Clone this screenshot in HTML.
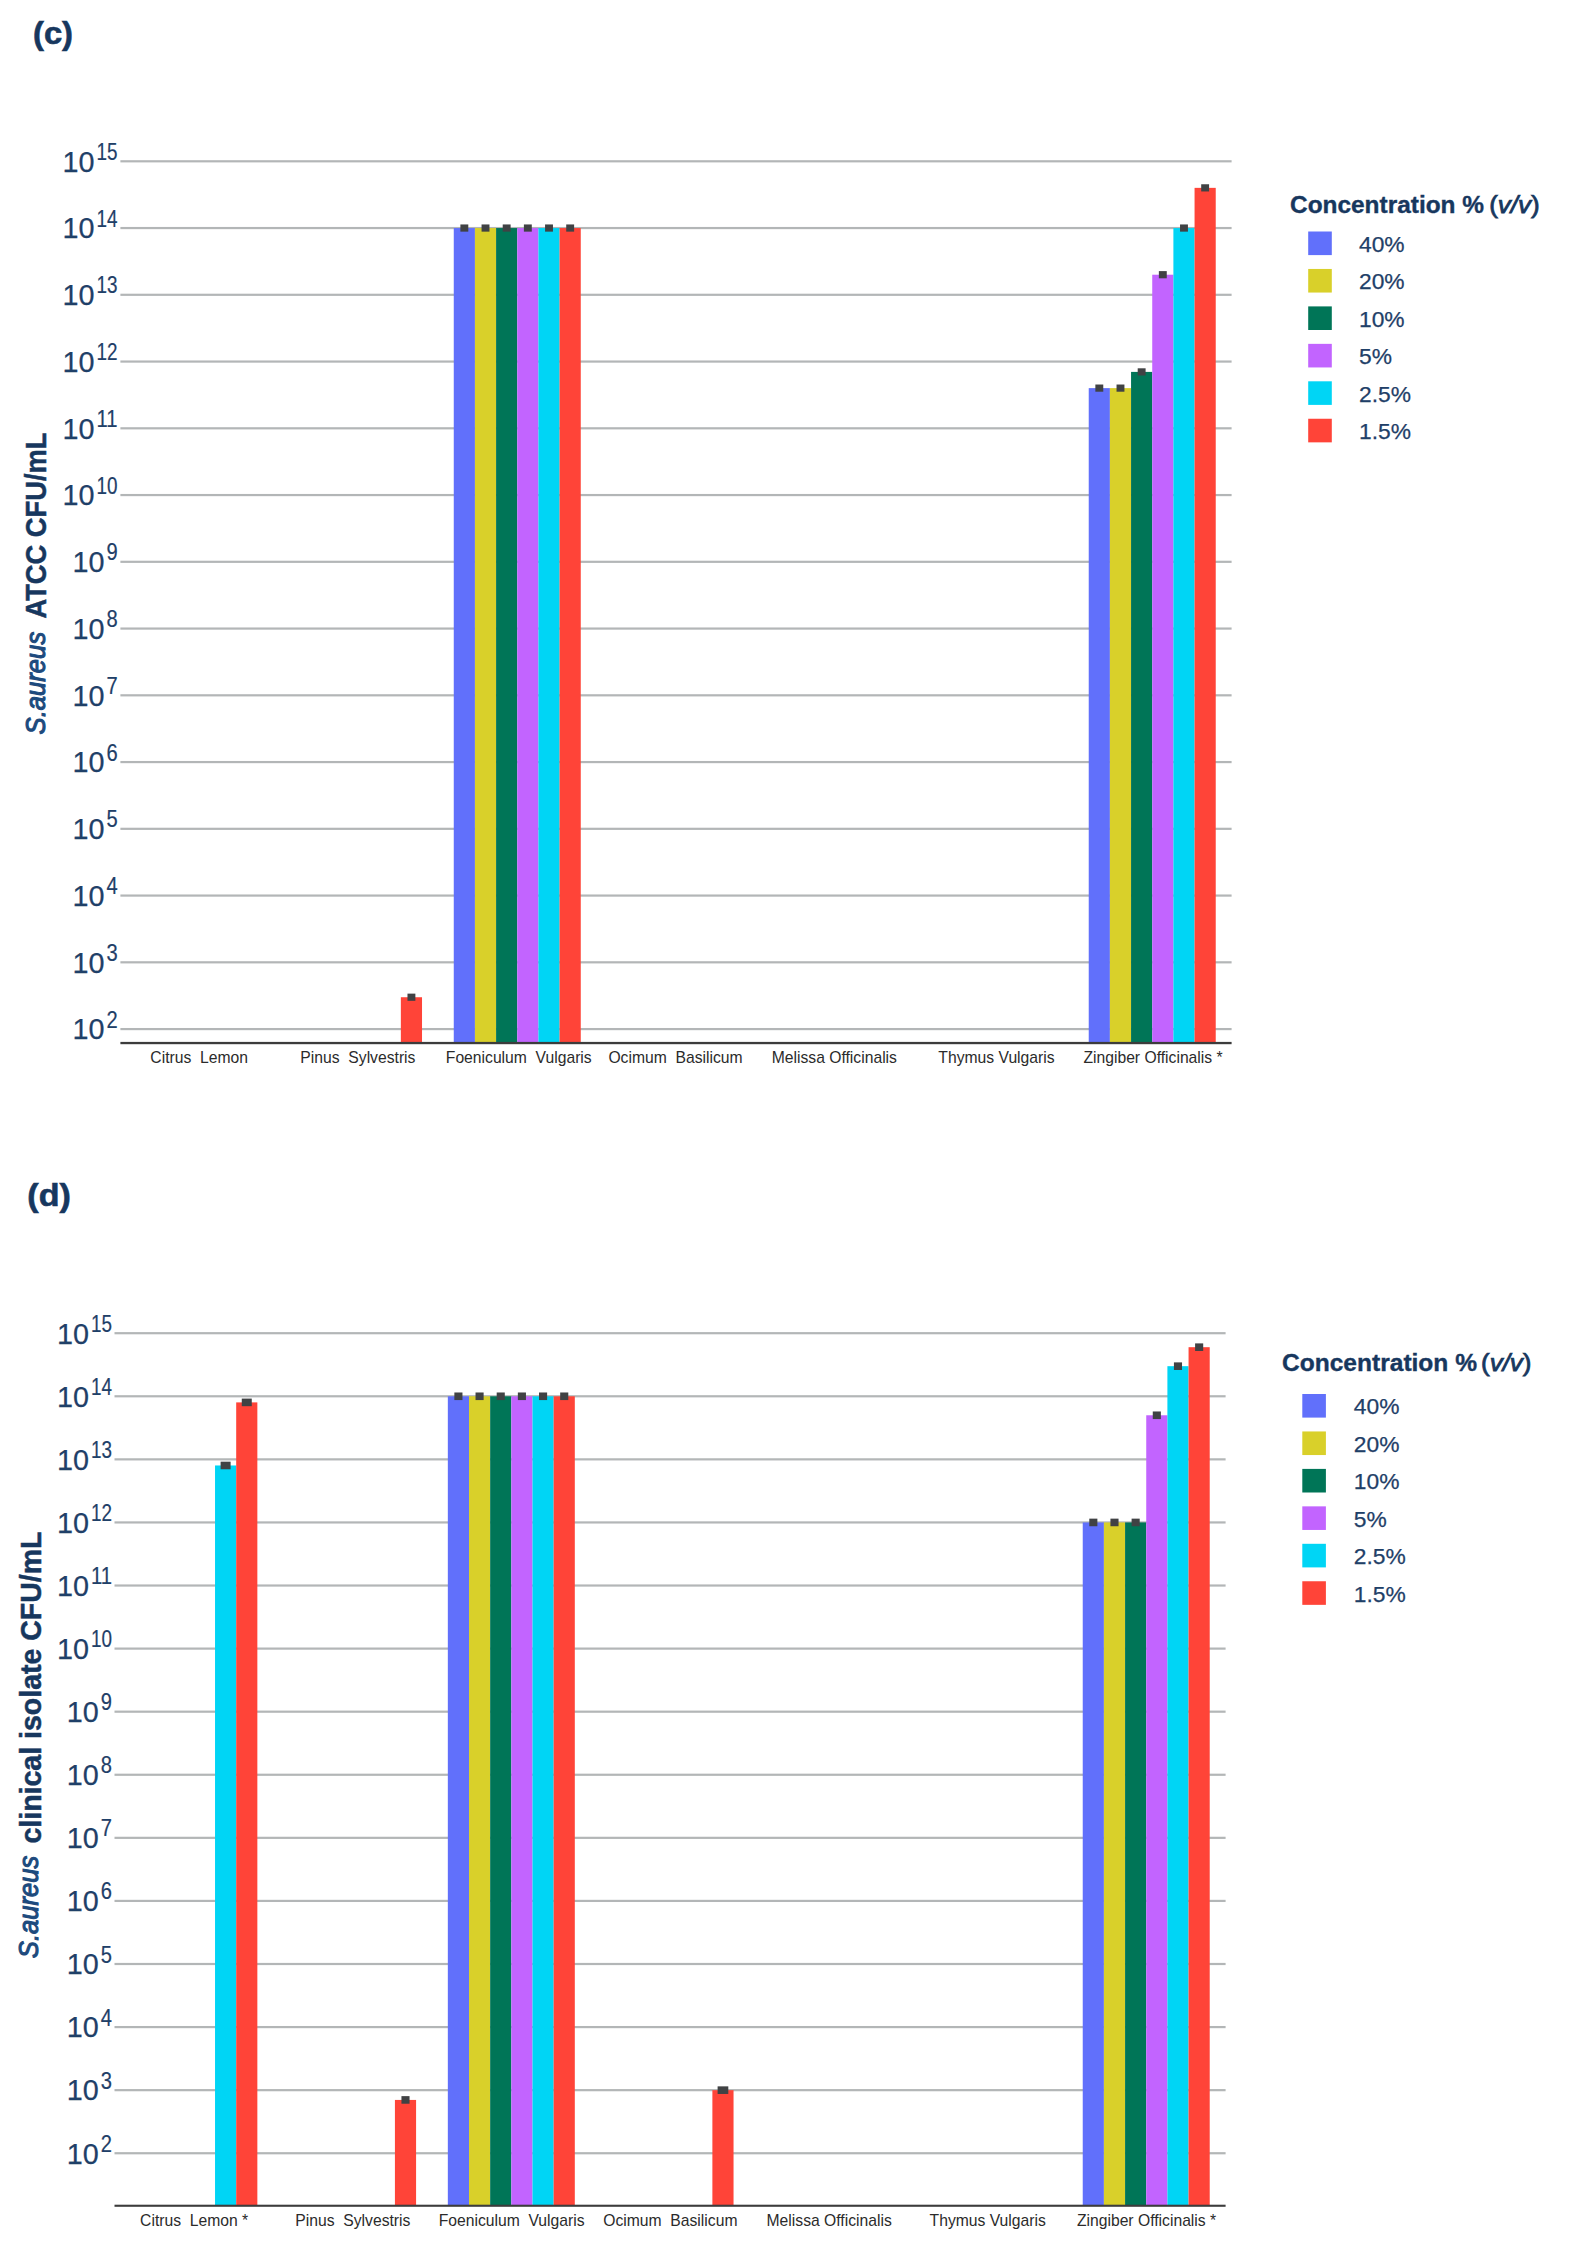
<!DOCTYPE html>
<html lang="en"><head><meta charset="utf-8"><title>S. aureus CFU/mL charts</title>
<style>
html,body{margin:0;padding:0;background:#fff;}
svg{display:block;font-family:"Liberation Sans",sans-serif;}
</style></head><body>
<svg width="1572" height="2255" viewBox="0 0 1572 2255">
<rect width="1572" height="2255" fill="#ffffff"/>
<g id="chart-c">
<rect x="120.40" y="1027.98" width="1111.20" height="2.2" fill="#b3b6b7"/>
<rect x="120.40" y="961.22" width="1111.20" height="2.2" fill="#b3b6b7"/>
<rect x="120.40" y="894.47" width="1111.20" height="2.2" fill="#b3b6b7"/>
<rect x="120.40" y="827.72" width="1111.20" height="2.2" fill="#b3b6b7"/>
<rect x="120.40" y="760.97" width="1111.20" height="2.2" fill="#b3b6b7"/>
<rect x="120.40" y="694.22" width="1111.20" height="2.2" fill="#b3b6b7"/>
<rect x="120.40" y="627.46" width="1111.20" height="2.2" fill="#b3b6b7"/>
<rect x="120.40" y="560.71" width="1111.20" height="2.2" fill="#b3b6b7"/>
<rect x="120.40" y="493.96" width="1111.20" height="2.2" fill="#b3b6b7"/>
<rect x="120.40" y="427.21" width="1111.20" height="2.2" fill="#b3b6b7"/>
<rect x="120.40" y="360.46" width="1111.20" height="2.2" fill="#b3b6b7"/>
<rect x="120.40" y="293.70" width="1111.20" height="2.2" fill="#b3b6b7"/>
<rect x="120.40" y="226.95" width="1111.20" height="2.2" fill="#b3b6b7"/>
<rect x="120.40" y="160.20" width="1111.20" height="2.2" fill="#b3b6b7"/>
<rect x="400.85" y="997.23" width="21.17" height="45.82" fill="#ff4438"/>
<rect x="453.76" y="228.05" width="21.17" height="815.00" fill="#6170fb"/>
<rect x="474.93" y="228.05" width="21.17" height="815.00" fill="#d9d02a"/>
<rect x="496.09" y="228.05" width="21.17" height="815.00" fill="#007557"/>
<rect x="517.26" y="228.05" width="21.17" height="815.00" fill="#c264ff"/>
<rect x="538.42" y="228.05" width="21.17" height="815.00" fill="#00d5f5"/>
<rect x="559.59" y="228.05" width="21.17" height="815.00" fill="#ff4438"/>
<rect x="1088.73" y="388.12" width="21.17" height="654.93" fill="#6170fb"/>
<rect x="1109.90" y="388.12" width="21.17" height="654.93" fill="#d9d02a"/>
<rect x="1131.06" y="371.90" width="21.17" height="671.15" fill="#007557"/>
<rect x="1152.23" y="274.71" width="21.17" height="768.34" fill="#c264ff"/>
<rect x="1173.39" y="228.05" width="21.17" height="815.00" fill="#00d5f5"/>
<rect x="1194.56" y="187.86" width="21.17" height="855.19" fill="#ff4438"/>
<rect x="120.40" y="1041.90" width="1111.20" height="2.3" fill="#3c3c3c"/>
<rect x="407.48" y="993.63" width="7.9" height="7.2" fill="#404244"/>
<rect x="460.39" y="224.45" width="7.9" height="7.2" fill="#404244"/>
<rect x="481.56" y="224.45" width="7.9" height="7.2" fill="#404244"/>
<rect x="502.72" y="224.45" width="7.9" height="7.2" fill="#404244"/>
<rect x="523.89" y="224.45" width="7.9" height="7.2" fill="#404244"/>
<rect x="545.06" y="224.45" width="7.9" height="7.2" fill="#404244"/>
<rect x="566.22" y="224.45" width="7.9" height="7.2" fill="#404244"/>
<rect x="1095.36" y="384.52" width="7.9" height="7.2" fill="#404244"/>
<rect x="1116.53" y="384.52" width="7.9" height="7.2" fill="#404244"/>
<rect x="1137.70" y="368.30" width="7.9" height="7.2" fill="#404244"/>
<rect x="1158.86" y="271.11" width="7.9" height="7.2" fill="#404244"/>
<rect x="1180.03" y="224.45" width="7.9" height="7.2" fill="#404244"/>
<rect x="1201.19" y="184.26" width="7.9" height="7.2" fill="#404244"/>
<text x="106.40" y="1027.58" font-size="23.0" fill="#1f4068" stroke="#1f4068" stroke-width="0.2" textLength="11.2" lengthAdjust="spacingAndGlyphs">2</text>
<text x="72.40" y="1039.38" font-size="30.3" fill="#1f4068" stroke="#1f4068" stroke-width="0.25" textLength="32" lengthAdjust="spacingAndGlyphs">10</text>
<text x="106.40" y="960.82" font-size="23.0" fill="#1f4068" stroke="#1f4068" stroke-width="0.2" textLength="11.2" lengthAdjust="spacingAndGlyphs">3</text>
<text x="72.40" y="972.62" font-size="30.3" fill="#1f4068" stroke="#1f4068" stroke-width="0.25" textLength="32" lengthAdjust="spacingAndGlyphs">10</text>
<text x="106.40" y="894.07" font-size="23.0" fill="#1f4068" stroke="#1f4068" stroke-width="0.2" textLength="11.2" lengthAdjust="spacingAndGlyphs">4</text>
<text x="72.40" y="905.87" font-size="30.3" fill="#1f4068" stroke="#1f4068" stroke-width="0.25" textLength="32" lengthAdjust="spacingAndGlyphs">10</text>
<text x="106.40" y="827.32" font-size="23.0" fill="#1f4068" stroke="#1f4068" stroke-width="0.2" textLength="11.2" lengthAdjust="spacingAndGlyphs">5</text>
<text x="72.40" y="839.12" font-size="30.3" fill="#1f4068" stroke="#1f4068" stroke-width="0.25" textLength="32" lengthAdjust="spacingAndGlyphs">10</text>
<text x="106.40" y="760.57" font-size="23.0" fill="#1f4068" stroke="#1f4068" stroke-width="0.2" textLength="11.2" lengthAdjust="spacingAndGlyphs">6</text>
<text x="72.40" y="772.37" font-size="30.3" fill="#1f4068" stroke="#1f4068" stroke-width="0.25" textLength="32" lengthAdjust="spacingAndGlyphs">10</text>
<text x="106.40" y="693.82" font-size="23.0" fill="#1f4068" stroke="#1f4068" stroke-width="0.2" textLength="11.2" lengthAdjust="spacingAndGlyphs">7</text>
<text x="72.40" y="705.62" font-size="30.3" fill="#1f4068" stroke="#1f4068" stroke-width="0.25" textLength="32" lengthAdjust="spacingAndGlyphs">10</text>
<text x="106.40" y="627.06" font-size="23.0" fill="#1f4068" stroke="#1f4068" stroke-width="0.2" textLength="11.2" lengthAdjust="spacingAndGlyphs">8</text>
<text x="72.40" y="638.86" font-size="30.3" fill="#1f4068" stroke="#1f4068" stroke-width="0.25" textLength="32" lengthAdjust="spacingAndGlyphs">10</text>
<text x="106.40" y="560.31" font-size="23.0" fill="#1f4068" stroke="#1f4068" stroke-width="0.2" textLength="11.2" lengthAdjust="spacingAndGlyphs">9</text>
<text x="72.40" y="572.11" font-size="30.3" fill="#1f4068" stroke="#1f4068" stroke-width="0.25" textLength="32" lengthAdjust="spacingAndGlyphs">10</text>
<text x="96.60" y="493.56" font-size="23.0" fill="#1f4068" stroke="#1f4068" stroke-width="0.2" textLength="21" lengthAdjust="spacingAndGlyphs">10</text>
<text x="62.60" y="505.36" font-size="30.3" fill="#1f4068" stroke="#1f4068" stroke-width="0.25" textLength="32" lengthAdjust="spacingAndGlyphs">10</text>
<text x="96.60" y="426.81" font-size="23.0" fill="#1f4068" stroke="#1f4068" stroke-width="0.2" textLength="21" lengthAdjust="spacingAndGlyphs">11</text>
<text x="62.60" y="438.61" font-size="30.3" fill="#1f4068" stroke="#1f4068" stroke-width="0.25" textLength="32" lengthAdjust="spacingAndGlyphs">10</text>
<text x="96.60" y="360.06" font-size="23.0" fill="#1f4068" stroke="#1f4068" stroke-width="0.2" textLength="21" lengthAdjust="spacingAndGlyphs">12</text>
<text x="62.60" y="371.86" font-size="30.3" fill="#1f4068" stroke="#1f4068" stroke-width="0.25" textLength="32" lengthAdjust="spacingAndGlyphs">10</text>
<text x="96.60" y="293.30" font-size="23.0" fill="#1f4068" stroke="#1f4068" stroke-width="0.2" textLength="21" lengthAdjust="spacingAndGlyphs">13</text>
<text x="62.60" y="305.10" font-size="30.3" fill="#1f4068" stroke="#1f4068" stroke-width="0.25" textLength="32" lengthAdjust="spacingAndGlyphs">10</text>
<text x="96.60" y="226.55" font-size="23.0" fill="#1f4068" stroke="#1f4068" stroke-width="0.2" textLength="21" lengthAdjust="spacingAndGlyphs">14</text>
<text x="62.60" y="238.35" font-size="30.3" fill="#1f4068" stroke="#1f4068" stroke-width="0.25" textLength="32" lengthAdjust="spacingAndGlyphs">10</text>
<text x="96.60" y="159.80" font-size="23.0" fill="#1f4068" stroke="#1f4068" stroke-width="0.2" textLength="21" lengthAdjust="spacingAndGlyphs">15</text>
<text x="62.60" y="171.60" font-size="30.3" fill="#1f4068" stroke="#1f4068" stroke-width="0.25" textLength="32" lengthAdjust="spacingAndGlyphs">10</text>
<text x="199.17" y="1062.7" font-size="15.7" fill="#2b2b2b" text-anchor="middle" style="white-space:pre">Citrus  Lemon</text>
<text x="357.91" y="1062.7" font-size="15.7" fill="#2b2b2b" text-anchor="middle" style="white-space:pre">Pinus  Sylvestris</text>
<text x="518.76" y="1062.7" font-size="15.7" fill="#2b2b2b" text-anchor="middle" style="white-space:pre">Foeniculum  Vulgaris</text>
<text x="675.50" y="1062.7" font-size="15.7" fill="#2b2b2b" text-anchor="middle" style="white-space:pre">Ocimum  Basilicum</text>
<text x="834.34" y="1062.7" font-size="15.7" fill="#2b2b2b" text-anchor="middle" style="white-space:pre">Melissa Officinalis</text>
<text x="996.49" y="1062.7" font-size="15.7" fill="#2b2b2b" text-anchor="middle" style="white-space:pre">Thymus Vulgaris</text>
<text x="1153.03" y="1062.7" font-size="15.7" fill="#2b2b2b" text-anchor="middle" style="white-space:pre">Zingiber Officinalis *</text>
<text x="1290.0" y="212.9" font-size="23" font-weight="bold" fill="#17375e" stroke="#17375e" stroke-width="0.35" textLength="194" lengthAdjust="spacingAndGlyphs">Concentration %</text>
<text x="1489.2" y="212.9" font-size="23" fill="#17375e" stroke="#17375e" stroke-width="0.75" textLength="50.5" lengthAdjust="spacingAndGlyphs">(<tspan font-style="italic">v/v</tspan>)</text>
<rect x="1308.2" y="231.50" width="23.6" height="23.6" fill="#6170fb"/>
<text x="1359" y="251.90" font-size="22.8" fill="#1f4068" stroke="#1f4068" stroke-width="0.25">40%</text>
<rect x="1308.2" y="268.95" width="23.6" height="23.6" fill="#d9d02a"/>
<text x="1359" y="289.35" font-size="22.8" fill="#1f4068" stroke="#1f4068" stroke-width="0.25">20%</text>
<rect x="1308.2" y="306.40" width="23.6" height="23.6" fill="#007557"/>
<text x="1359" y="326.80" font-size="22.8" fill="#1f4068" stroke="#1f4068" stroke-width="0.25">10%</text>
<rect x="1308.2" y="343.85" width="23.6" height="23.6" fill="#c264ff"/>
<text x="1359" y="364.25" font-size="22.8" fill="#1f4068" stroke="#1f4068" stroke-width="0.25">5%</text>
<rect x="1308.2" y="381.30" width="23.6" height="23.6" fill="#00d5f5"/>
<text x="1359" y="401.70" font-size="22.8" fill="#1f4068" stroke="#1f4068" stroke-width="0.25">2.5%</text>
<rect x="1308.2" y="418.75" width="23.6" height="23.6" fill="#ff4438"/>
<text x="1359" y="439.15" font-size="22.8" fill="#1f4068" stroke="#1f4068" stroke-width="0.25">1.5%</text>
<text transform="translate(44.9,734.4) rotate(-90)" font-size="28.5" font-style="italic" fill="#1d4a7d" stroke="#1d4a7d" stroke-width="1.1" textLength="102.6" lengthAdjust="spacingAndGlyphs">S.aureus</text>
<text transform="translate(46.3,618.5) rotate(-90)" font-size="30" font-weight="bold" fill="#17375e" stroke="#17375e" stroke-width="0.5" textLength="186" lengthAdjust="spacingAndGlyphs">ATCC CFU/mL</text>
<text x="33.0" y="44.3" font-size="31" font-weight="bold" fill="#17375e" stroke="#17375e" stroke-width="0.6" textLength="40.0" lengthAdjust="spacingAndGlyphs">(c)</text>
</g>
<g id="chart-d">
<rect x="114.50" y="2152.14" width="1111.10" height="2.2" fill="#b3b6b7"/>
<rect x="114.50" y="2089.06" width="1111.10" height="2.2" fill="#b3b6b7"/>
<rect x="114.50" y="2025.98" width="1111.10" height="2.2" fill="#b3b6b7"/>
<rect x="114.50" y="1962.90" width="1111.10" height="2.2" fill="#b3b6b7"/>
<rect x="114.50" y="1899.82" width="1111.10" height="2.2" fill="#b3b6b7"/>
<rect x="114.50" y="1836.74" width="1111.10" height="2.2" fill="#b3b6b7"/>
<rect x="114.50" y="1773.66" width="1111.10" height="2.2" fill="#b3b6b7"/>
<rect x="114.50" y="1710.58" width="1111.10" height="2.2" fill="#b3b6b7"/>
<rect x="114.50" y="1647.50" width="1111.10" height="2.2" fill="#b3b6b7"/>
<rect x="114.50" y="1584.42" width="1111.10" height="2.2" fill="#b3b6b7"/>
<rect x="114.50" y="1521.34" width="1111.10" height="2.2" fill="#b3b6b7"/>
<rect x="114.50" y="1458.26" width="1111.10" height="2.2" fill="#b3b6b7"/>
<rect x="114.50" y="1395.18" width="1111.10" height="2.2" fill="#b3b6b7"/>
<rect x="114.50" y="1332.10" width="1111.10" height="2.2" fill="#b3b6b7"/>
<rect x="215.03" y="1465.47" width="21.16" height="740.28" fill="#00d5f5"/>
<rect x="236.19" y="1402.39" width="21.16" height="803.36" fill="#ff4438"/>
<rect x="394.92" y="2099.93" width="21.16" height="105.82" fill="#ff4438"/>
<rect x="447.83" y="1396.28" width="21.16" height="809.47" fill="#6170fb"/>
<rect x="468.99" y="1396.28" width="21.16" height="809.47" fill="#d9d02a"/>
<rect x="490.16" y="1396.28" width="21.16" height="809.47" fill="#007557"/>
<rect x="511.32" y="1396.28" width="21.16" height="809.47" fill="#c264ff"/>
<rect x="532.49" y="1396.28" width="21.16" height="809.47" fill="#00d5f5"/>
<rect x="553.65" y="1396.28" width="21.16" height="809.47" fill="#ff4438"/>
<rect x="712.38" y="2090.16" width="21.16" height="115.59" fill="#ff4438"/>
<rect x="1082.74" y="1522.44" width="21.16" height="683.31" fill="#6170fb"/>
<rect x="1103.91" y="1522.44" width="21.16" height="683.31" fill="#d9d02a"/>
<rect x="1125.07" y="1522.44" width="21.16" height="683.31" fill="#007557"/>
<rect x="1146.24" y="1415.27" width="21.16" height="790.48" fill="#c264ff"/>
<rect x="1167.40" y="1366.18" width="21.16" height="839.57" fill="#00d5f5"/>
<rect x="1188.56" y="1347.19" width="21.16" height="858.56" fill="#ff4438"/>
<rect x="114.50" y="2204.70" width="1111.10" height="2.1" fill="#3c3c3c"/>
<rect x="220.61" y="1461.67" width="10" height="7.6" fill="#404244"/>
<rect x="241.77" y="1398.59" width="10" height="7.6" fill="#404244"/>
<rect x="401.45" y="2096.13" width="8.1" height="7.6" fill="#404244"/>
<rect x="454.36" y="1392.48" width="8.1" height="7.6" fill="#404244"/>
<rect x="475.53" y="1392.48" width="8.1" height="7.6" fill="#404244"/>
<rect x="496.69" y="1392.48" width="8.1" height="7.6" fill="#404244"/>
<rect x="517.85" y="1392.48" width="8.1" height="7.6" fill="#404244"/>
<rect x="539.02" y="1392.48" width="8.1" height="7.6" fill="#404244"/>
<rect x="560.18" y="1392.48" width="8.1" height="7.6" fill="#404244"/>
<rect x="717.61" y="2086.36" width="10.7" height="7.6" fill="#404244"/>
<rect x="1089.28" y="1518.64" width="8.1" height="7.6" fill="#404244"/>
<rect x="1110.44" y="1518.64" width="8.1" height="7.6" fill="#404244"/>
<rect x="1131.60" y="1518.64" width="8.1" height="7.6" fill="#404244"/>
<rect x="1152.77" y="1411.47" width="8.1" height="7.6" fill="#404244"/>
<rect x="1173.93" y="1362.38" width="8.1" height="7.6" fill="#404244"/>
<rect x="1195.10" y="1343.39" width="8.1" height="7.6" fill="#404244"/>
<text x="100.80" y="2151.74" font-size="23.0" fill="#1f4068" stroke="#1f4068" stroke-width="0.2" textLength="11.2" lengthAdjust="spacingAndGlyphs">2</text>
<text x="66.80" y="2163.54" font-size="30.3" fill="#1f4068" stroke="#1f4068" stroke-width="0.25" textLength="32" lengthAdjust="spacingAndGlyphs">10</text>
<text x="100.80" y="2088.66" font-size="23.0" fill="#1f4068" stroke="#1f4068" stroke-width="0.2" textLength="11.2" lengthAdjust="spacingAndGlyphs">3</text>
<text x="66.80" y="2100.46" font-size="30.3" fill="#1f4068" stroke="#1f4068" stroke-width="0.25" textLength="32" lengthAdjust="spacingAndGlyphs">10</text>
<text x="100.80" y="2025.58" font-size="23.0" fill="#1f4068" stroke="#1f4068" stroke-width="0.2" textLength="11.2" lengthAdjust="spacingAndGlyphs">4</text>
<text x="66.80" y="2037.38" font-size="30.3" fill="#1f4068" stroke="#1f4068" stroke-width="0.25" textLength="32" lengthAdjust="spacingAndGlyphs">10</text>
<text x="100.80" y="1962.50" font-size="23.0" fill="#1f4068" stroke="#1f4068" stroke-width="0.2" textLength="11.2" lengthAdjust="spacingAndGlyphs">5</text>
<text x="66.80" y="1974.30" font-size="30.3" fill="#1f4068" stroke="#1f4068" stroke-width="0.25" textLength="32" lengthAdjust="spacingAndGlyphs">10</text>
<text x="100.80" y="1899.42" font-size="23.0" fill="#1f4068" stroke="#1f4068" stroke-width="0.2" textLength="11.2" lengthAdjust="spacingAndGlyphs">6</text>
<text x="66.80" y="1911.22" font-size="30.3" fill="#1f4068" stroke="#1f4068" stroke-width="0.25" textLength="32" lengthAdjust="spacingAndGlyphs">10</text>
<text x="100.80" y="1836.34" font-size="23.0" fill="#1f4068" stroke="#1f4068" stroke-width="0.2" textLength="11.2" lengthAdjust="spacingAndGlyphs">7</text>
<text x="66.80" y="1848.14" font-size="30.3" fill="#1f4068" stroke="#1f4068" stroke-width="0.25" textLength="32" lengthAdjust="spacingAndGlyphs">10</text>
<text x="100.80" y="1773.26" font-size="23.0" fill="#1f4068" stroke="#1f4068" stroke-width="0.2" textLength="11.2" lengthAdjust="spacingAndGlyphs">8</text>
<text x="66.80" y="1785.06" font-size="30.3" fill="#1f4068" stroke="#1f4068" stroke-width="0.25" textLength="32" lengthAdjust="spacingAndGlyphs">10</text>
<text x="100.80" y="1710.18" font-size="23.0" fill="#1f4068" stroke="#1f4068" stroke-width="0.2" textLength="11.2" lengthAdjust="spacingAndGlyphs">9</text>
<text x="66.80" y="1721.98" font-size="30.3" fill="#1f4068" stroke="#1f4068" stroke-width="0.25" textLength="32" lengthAdjust="spacingAndGlyphs">10</text>
<text x="91.00" y="1647.10" font-size="23.0" fill="#1f4068" stroke="#1f4068" stroke-width="0.2" textLength="21" lengthAdjust="spacingAndGlyphs">10</text>
<text x="57.00" y="1658.90" font-size="30.3" fill="#1f4068" stroke="#1f4068" stroke-width="0.25" textLength="32" lengthAdjust="spacingAndGlyphs">10</text>
<text x="91.00" y="1584.02" font-size="23.0" fill="#1f4068" stroke="#1f4068" stroke-width="0.2" textLength="21" lengthAdjust="spacingAndGlyphs">11</text>
<text x="57.00" y="1595.82" font-size="30.3" fill="#1f4068" stroke="#1f4068" stroke-width="0.25" textLength="32" lengthAdjust="spacingAndGlyphs">10</text>
<text x="91.00" y="1520.94" font-size="23.0" fill="#1f4068" stroke="#1f4068" stroke-width="0.2" textLength="21" lengthAdjust="spacingAndGlyphs">12</text>
<text x="57.00" y="1532.74" font-size="30.3" fill="#1f4068" stroke="#1f4068" stroke-width="0.25" textLength="32" lengthAdjust="spacingAndGlyphs">10</text>
<text x="91.00" y="1457.86" font-size="23.0" fill="#1f4068" stroke="#1f4068" stroke-width="0.2" textLength="21" lengthAdjust="spacingAndGlyphs">13</text>
<text x="57.00" y="1469.66" font-size="30.3" fill="#1f4068" stroke="#1f4068" stroke-width="0.25" textLength="32" lengthAdjust="spacingAndGlyphs">10</text>
<text x="91.00" y="1394.78" font-size="23.0" fill="#1f4068" stroke="#1f4068" stroke-width="0.2" textLength="21" lengthAdjust="spacingAndGlyphs">14</text>
<text x="57.00" y="1406.58" font-size="30.3" fill="#1f4068" stroke="#1f4068" stroke-width="0.25" textLength="32" lengthAdjust="spacingAndGlyphs">10</text>
<text x="91.00" y="1331.70" font-size="23.0" fill="#1f4068" stroke="#1f4068" stroke-width="0.2" textLength="21" lengthAdjust="spacingAndGlyphs">15</text>
<text x="57.00" y="1343.50" font-size="30.3" fill="#1f4068" stroke="#1f4068" stroke-width="0.25" textLength="32" lengthAdjust="spacingAndGlyphs">10</text>
<text x="194.16" y="2225.8" font-size="15.7" fill="#2b2b2b" text-anchor="middle" style="white-space:pre">Citrus  Lemon *</text>
<text x="352.89" y="2225.8" font-size="15.7" fill="#2b2b2b" text-anchor="middle" style="white-space:pre">Pinus  Sylvestris</text>
<text x="511.62" y="2225.8" font-size="15.7" fill="#2b2b2b" text-anchor="middle" style="white-space:pre">Foeniculum  Vulgaris</text>
<text x="670.35" y="2225.8" font-size="15.7" fill="#2b2b2b" text-anchor="middle" style="white-space:pre">Ocimum  Basilicum</text>
<text x="829.18" y="2225.8" font-size="15.7" fill="#2b2b2b" text-anchor="middle" style="white-space:pre">Melissa Officinalis</text>
<text x="987.71" y="2225.8" font-size="15.7" fill="#2b2b2b" text-anchor="middle" style="white-space:pre">Thymus Vulgaris</text>
<text x="1146.54" y="2225.8" font-size="15.7" fill="#2b2b2b" text-anchor="middle" style="white-space:pre">Zingiber Officinalis *</text>
<text x="1282.0" y="1370.7" font-size="23" font-weight="bold" fill="#17375e" stroke="#17375e" stroke-width="0.35" textLength="195" lengthAdjust="spacingAndGlyphs">Concentration %</text>
<text x="1481.0" y="1370.7" font-size="23" fill="#17375e" stroke="#17375e" stroke-width="0.75" textLength="50.5" lengthAdjust="spacingAndGlyphs">(<tspan font-style="italic">v/v</tspan>)</text>
<rect x="1302.3" y="1394.00" width="23.6" height="23.6" fill="#6170fb"/>
<text x="1353.8" y="1414.40" font-size="22.8" fill="#1f4068" stroke="#1f4068" stroke-width="0.25">40%</text>
<rect x="1302.3" y="1431.45" width="23.6" height="23.6" fill="#d9d02a"/>
<text x="1353.8" y="1451.85" font-size="22.8" fill="#1f4068" stroke="#1f4068" stroke-width="0.25">20%</text>
<rect x="1302.3" y="1468.90" width="23.6" height="23.6" fill="#007557"/>
<text x="1353.8" y="1489.30" font-size="22.8" fill="#1f4068" stroke="#1f4068" stroke-width="0.25">10%</text>
<rect x="1302.3" y="1506.35" width="23.6" height="23.6" fill="#c264ff"/>
<text x="1353.8" y="1526.75" font-size="22.8" fill="#1f4068" stroke="#1f4068" stroke-width="0.25">5%</text>
<rect x="1302.3" y="1543.80" width="23.6" height="23.6" fill="#00d5f5"/>
<text x="1353.8" y="1564.20" font-size="22.8" fill="#1f4068" stroke="#1f4068" stroke-width="0.25">2.5%</text>
<rect x="1302.3" y="1581.25" width="23.6" height="23.6" fill="#ff4438"/>
<text x="1353.8" y="1601.65" font-size="22.8" fill="#1f4068" stroke="#1f4068" stroke-width="0.25">1.5%</text>
<text transform="translate(37.9,1958.2) rotate(-90)" font-size="28.5" font-style="italic" fill="#1d4a7d" stroke="#1d4a7d" stroke-width="1.1" textLength="102.6" lengthAdjust="spacingAndGlyphs">S.aureus</text>
<text transform="translate(40.5,1843.5) rotate(-90)" font-size="30" font-weight="bold" fill="#17375e" stroke="#17375e" stroke-width="0.5" textLength="312" lengthAdjust="spacingAndGlyphs">clinical isolate CFU/mL</text>
<text x="27.3" y="1206.3" font-size="31" font-weight="bold" fill="#17375e" stroke="#17375e" stroke-width="0.6" textLength="43.5" lengthAdjust="spacingAndGlyphs">(d)</text>
</g>
</svg>
</body></html>
